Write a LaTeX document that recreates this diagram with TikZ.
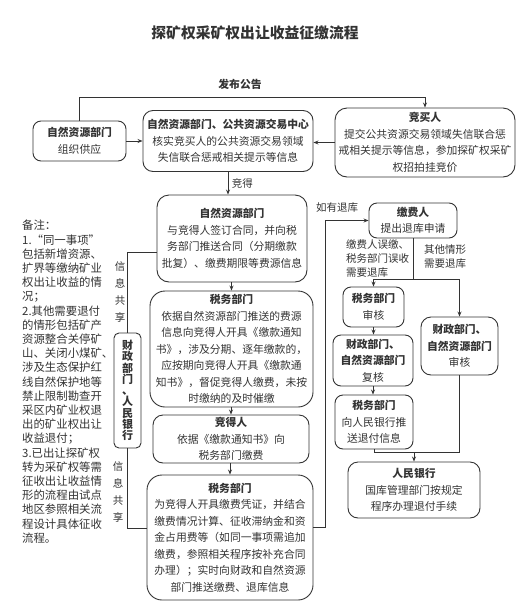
\documentclass[tikz,border=0pt]{standalone}
\usepackage{fontspec}
\setmainfont{Noto Sans CJK SC}
\usetikzlibrary{arrows.meta}
\definecolor{ink}{gray}{0.2}

\begin{document}
\begin{tikzpicture}[x=1pt, y=-1pt,
  box/.style={rectangle, rounded corners=8pt, draw=ink, line width=0.9pt, inner sep=0pt, align=center, text=ink, font=\fontsize{10.8}{16.5}\selectfont},
  vbox/.style={rectangle, rounded corners=5pt, draw=ink, line width=0.9pt, inner sep=0pt, align=center, text=ink, font=\fontsize{11}{11.3}\selectfont\bfseries},
  tag/.style={align=left, text=ink, inner sep=0pt, font=\fontsize{10.5}{14}\selectfont},
  vtag/.style={align=center, text=ink, inner sep=0pt, font=\fontsize{10.5}{17}\selectfont},
  arr/.style={-{Stealth[length=5pt, width=4pt]}, draw=ink, line width=0.9pt},
  link/.style={draw=ink, line width=0.9pt}
]

\useasboundingbox (0,0) rectangle (525,611);

\node[text=ink, font=\fontsize{14.8}{17}\selectfont\bfseries] (title) at (255,33) {探矿权采矿权出让收益征缴流程};

% top row
\node[box, minimum width=93pt, minimum height=40pt] (supply) at (79.5,141) {\textbf{自然资源部门}\\组织供应};
\node[box, rounded corners=10pt, minimum width=170pt, minimum height=61pt] (verify) at (228,141) {\textbf{自然资源部门、公共资源交易中心}\\核实竞买人的公共资源交易领域\\失信联合惩戒相关提示等信息};
\node[box, rounded corners=12pt, minimum width=180pt, minimum height=69pt] (bidder) at (425,142.5) {\textbf{竞买人}\\提交公共资源交易领域失信联合惩\\戒相关提示等信息，参加探矿权采矿\\权招拍挂竞价};
\node[text=ink, font=\fontsize{10.8}{13}\selectfont\bfseries] (announce) at (240,84) {发布公告};

% main column
\node[box, rounded corners=12pt, minimum width=150pt, minimum height=87pt] (contract) at (232,238.5) {\textbf{自然资源部门}\\与竞得人签订合同，并向税\\务部门推送合同（分期缴款\\批复）、缴费期限等费源信息};
\node[box, rounded corners=15pt, minimum width=163pt, minimum height=116pt] (notice) at (231.5,349) {\textbf{税务部门}\\依据自然资源部门推送的费源\\信息向竞得人开具《缴款通知\\书》，涉及分期、逐年缴款的，\\应按期向竞得人开具《缴款通\\知书》，督促竞得人缴费，未按\\时缴纳的及时催缴};
\node[box, rounded corners=10pt, minimum width=156pt, minimum height=48pt] (winner) at (231,439) {\textbf{竞得人}\\依据《缴款通知书》向\\税务部门缴费};
\node[box, rounded corners=15pt, minimum width=166pt, minimum height=125pt] (collect) at (230,537.5) {\textbf{税务部门}\\为竞得人开具缴费凭证，并结合\\缴费情况计算、征收滞纳金和资\\金占用费等（如同一事项需追加\\缴费，参照相关程序按补充合同\\办理）；实时向财政和自然资源\\部门推送缴费、退库信息};

% info sharing
\node[vbox, minimum width=27pt, minimum height=115pt] (fin) at (127.5,390.5) {财\\政\\部\\门\\、\\人\\民\\银\\行};
\node[vtag] (share1) at (120,292) {信\\息\\共\\享};
\node[vtag] (share2) at (118,492) {信\\息\\共\\享};

% refund column
\node[box, minimum width=88pt, minimum height=35pt] (payer) at (413,220.5) {\textbf{缴费人}\\提出退库申请};
\node[box, minimum width=61pt, minimum height=40pt] (tax2) at (373.5,307) {\textbf{税务部门}\\审核};
\node[box, minimum width=80pt, minimum height=51pt] (fin1) at (373,360.5) {\textbf{财政部门、}\\\textbf{自然资源部门}\\复核};
\node[box, minimum width=78pt, minimum height=54pt] (tax3) at (374,422) {\textbf{税务部门}\\向人民银行推\\送退付信息};
\node[box, rounded corners=10pt, minimum width=77pt, minimum height=58pt] (fin2) at (459.5,346) {\textbf{财政部门、}\\\textbf{自然资源部门}\\审核};
\node[box, rounded corners=10pt, minimum width=132pt, minimum height=56pt] (bank) at (414,490) {\textbf{人民银行}\\国库管理部门按规定\\程序办理退付手续};

\node[tag] (refund) at (337,208) {如有退库};
\node[tag, anchor=north west] (wrong) at (346,239) {缴费人误缴、\\税务部门误收\\需要退库};
\node[tag, anchor=north west] (other) at (424,244) {其他情形\\需要退库};

\coordinate (split) at (413,279);
\coordinate (join) at (414,452);

% notes
\node[anchor=north west, align=left, text=ink, inner sep=0pt, font=\fontsize{11.4}{14.2}\selectfont] (notes) at (22,220) {备注：\\1.“同一事项”\\包括新增资源、\\扩界等缴纳矿业\\权出让收益的情\\况；\\2.其他需要退付\\的情形包括矿产\\资源整合关停矿\\山、关闭小煤矿、\\涉及生态保护红\\线自然保护地等\\禁止限制勘查开\\采区内矿业权退\\出的矿业权出让\\收益退付；\\3.已出让探矿权\\转为采矿权等需\\征收出让收益情\\形的流程由试点\\地区参照相关流\\程设计具体征收\\流程。};

% arrows
\draw[arr] (supply.north) -- ++(0,-23) -| (bidder.north);
\draw[arr] (supply.east) -- (supply.east -| verify.west);
\draw[arr] (bidder.west) -- (bidder.west -| verify.east);
\draw[arr] (verify.south) -- (verify.south |- contract.north) node[midway, right, text=ink, font=\fontsize{10.5}{12}\selectfont] (won) {竞得};
\draw[arr] (contract.south -| notice.north) -- (notice.north);
\draw[arr] (notice.south -| winner.north) -- (winner.north);
\draw[arr] (winner.south -| collect.north) -- (collect.north);

\draw[link] (fin.north) |- ([yshift=-13.5pt]contract.west);
\draw[link] (fin.south) |- ([yshift=9.5pt]collect.west);

\draw[arr] ([yshift=10.5pt]collect.east) -- ++(12,0) |- (payer.west);
\draw[link] (payer.south) -- (split);
\draw[arr] (split) -| (tax2.north);
\draw[arr] (split) -| (fin2.north);
\draw[arr] (tax2.south) -- (tax2.south |- fin1.north);
\draw[arr] (fin1.south) -- (fin1.south |- tax3.north);
\draw[link] (tax3.south) |- (join);
\draw[link] (fin2.south) |- (join);
\draw[arr] (join) -- (bank.north);

\end{tikzpicture}
\end{document}
